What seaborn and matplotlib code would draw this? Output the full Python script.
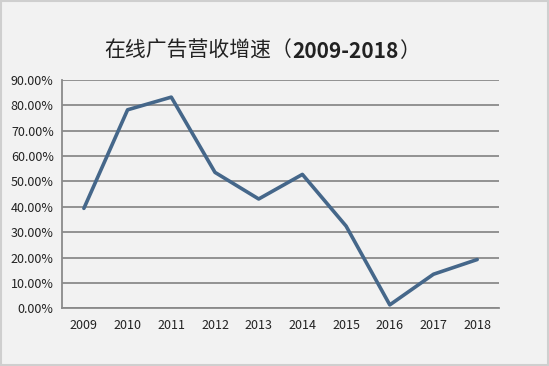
import matplotlib
matplotlib.use("Agg")
import matplotlib.pyplot as plt
import matplotlib.ticker as mticker
from matplotlib.patches import Rectangle
import seaborn as sns
import pandas as pd

# Data
years = ["2009", "2010", "2011", "2012", "2013", "2014", "2015", "2016", "2017", "2018"]
growth = [39.4, 78.3, 83.3, 53.6, 43.1, 52.8, 32.4, 1.3, 13.4, 19.2]
y_ticks = [0, 10, 20, 30, 40, 50, 60, 70, 80, 90]

df = pd.DataFrame({"year": years, "growth": growth})

sns.set_theme(style="white")
plt.rcParams['font.family'] = ['Noto Sans CJK SC', 'DejaVu Sans']

bg = "#f2f2f2"
fig = plt.figure(figsize=(5.49, 3.66), dpi=100, facecolor=bg)
ax = fig.add_axes([0.113, 0.158, 0.796, 0.623], facecolor=bg)

# border around the picture
fig.patches.append(Rectangle((0.002, 0.003), 0.996, 0.994, transform=fig.transFigure,
                             fill=False, edgecolor="#cfcfcf", linewidth=1.5))

ax.set_xlim(-0.5, len(years) - 0.5)
ax.set_ylim(0, 90)

# grid
for v in y_ticks:
    ax.axhline(v, color="#8a8a8a", linewidth=1.3, zorder=1)

sns.lineplot(data=df, x="year", y="growth", ax=ax, color="#45678a",
             linewidth=2.6, sort=False, zorder=3)

ax.set_yticks(y_ticks)
ax.yaxis.set_major_formatter(mticker.FuncFormatter(lambda v, p: f"{v:.2f}%"))
ax.set_xticks(range(len(years)))
ax.set_xticklabels(years)
ax.set_xticks([i - 0.5 for i in range(len(years) + 1)], minor=True)

ax.tick_params(axis="x", which="major", length=0, pad=8, labelsize=9, colors="#222222")
ax.tick_params(axis="x", which="minor", length=4, width=1, color="#8a8a8a", direction="out")
ax.tick_params(axis="y", which="major", length=4, width=1, color="#8a8a8a", direction="out",
               labelsize=9, colors="#222222", pad=2)
ax.tick_params(axis="both", labelcolor="#222222")

for s in ["top", "right"]:
    ax.spines[s].set_visible(False)
for s in ["left", "bottom"]:
    ax.spines[s].set_color("#8a8a8a")
    ax.spines[s].set_linewidth(1.3)

ax.set_xlabel("")
ax.set_ylabel("")

# title: Chinese part regular, years bold
t1 = fig.text(0.19, 0.845, "在线广告营收增速（", fontsize=15, color="#222222", ha="left", va="baseline")
t2 = ax.annotate("2009-2018", xy=(1, 0), xycoords=t1, fontsize=15, fontweight="bold",
                 color="#222222", ha="left", va="bottom", annotation_clip=False)
t3 = ax.annotate("）", xy=(1, 0), xycoords=t2, fontsize=15, color="#222222",
                 ha="left", va="bottom", annotation_clip=False)

fig.savefig("out.png", dpi=100, facecolor=bg)
